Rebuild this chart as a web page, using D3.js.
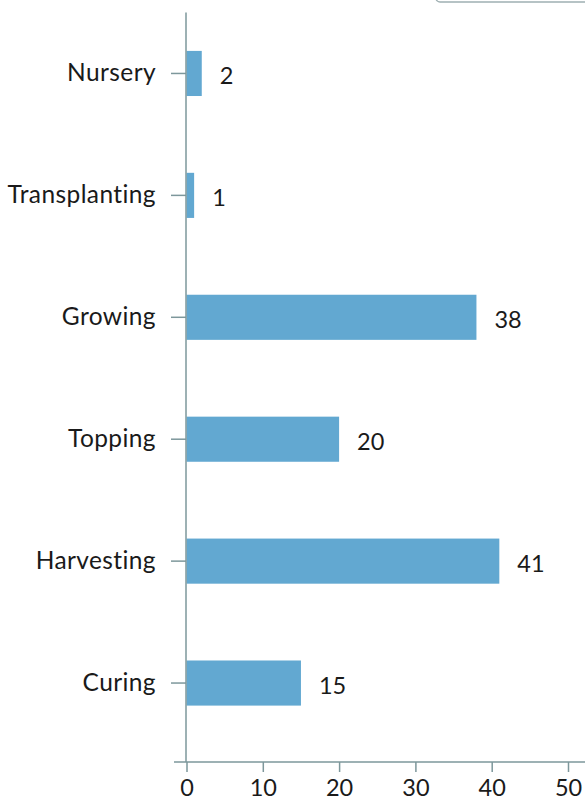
<!DOCTYPE html>
<html>
<head>
<meta charset="utf-8">
<script src="https://cdn.jsdelivr.net/npm/d3@7"></script>
<style>
  html, body { margin: 0; padding: 0; background: #fff; }
  svg { display: block; font-family: Lato, "Open Sans", sans-serif; font-variant-ligatures: none; }
</style>
</head>
<body>
<svg id="chart" width="585" height="800"></svg>
<script>
// Labour days per stage of the crop cycle
const stages = ["Nursery", "Transplanting", "Growing", "Topping", "Harvesting", "Curing"];
const days = [2, 1, 38, 20, 41, 15];
const xTicks = [0, 10, 20, 30, 40, 50];

const svg = d3.select("#chart");
const axisColor = "#7d979b";
const barColor = "#62a8d1";
const textColor = "#1a1a1a";
const labelSize = 24.5;
const numberSize = 23.5;

const x = d3.scaleLinear().domain([0, 50]).range([186.5, 568]);
const y = d3.scaleBand().domain(stages).range([12.5, 744]).paddingInner(0.63).paddingOuter(0.315);
const axisY = 762;

// legend frame at the top right
svg.append("rect")
  .attr("x", 436).attr("y", -40).attr("width", 170).attr("height", 42)
  .attr("rx", 4).attr("fill", "none").attr("stroke", "#9fb0b2").attr("stroke-width", 1.5);

// bars
svg.append("g").selectAll("rect")
  .data(stages)
  .join("rect")
  .attr("x", x(0))
  .attr("y", d => y(d))
  .attr("width", (d, i) => x(days[i]) - x(0))
  .attr("height", y.bandwidth())
  .attr("fill", barColor);

// value labels
svg.append("g").selectAll("text")
  .data(stages)
  .join("text")
  .attr("x", (d, i) => x(days[i]) + 18)
  .attr("y", d => y(d) + y.bandwidth() / 2 + 2)
  .attr("dy", "0.37em")
  .attr("font-size", numberSize)
  .attr("fill", textColor)
  .text((d, i) => days[i]);

// y axis
const gy = svg.append("g")
  .attr("transform", `translate(${x(0) - 0.5},0)`)
  .call(d3.axisLeft(y).tickSize(15).tickPadding(15).tickSizeOuter(0));
gy.select(".domain").remove();
gy.selectAll(".tick line").attr("stroke", axisColor).attr("stroke-width", 1.5);
gy.selectAll(".tick text").attr("font-size", labelSize).attr("fill", textColor)
  .attr("font-family", "Lato, 'Open Sans', sans-serif").attr("dy", "0.32em")
  .attr("letter-spacing", "0.4px");
gy.append("line")
  .attr("x1", 0).attr("x2", 0).attr("y1", 12.5).attr("y2", axisY)
  .attr("stroke", axisColor).attr("stroke-width", 1.5);

// x axis
const gx = svg.append("g")
  .attr("transform", `translate(0,${axisY})`)
  .call(d3.axisBottom(x).tickValues(xTicks).tickSize(10).tickPadding(7).tickSizeOuter(0));
gx.select(".domain").remove();
gx.selectAll(".tick line").attr("stroke", axisColor).attr("stroke-width", 1.5);
gx.selectAll(".tick text").attr("font-size", numberSize).attr("fill", textColor)
  .attr("font-family", "Lato, 'Open Sans', sans-serif");
gx.append("line")
  .attr("x1", 174).attr("x2", 585).attr("y1", 0).attr("y2", 0)
  .attr("stroke", axisColor).attr("stroke-width", 1.5);
</script>
</body>
</html>
